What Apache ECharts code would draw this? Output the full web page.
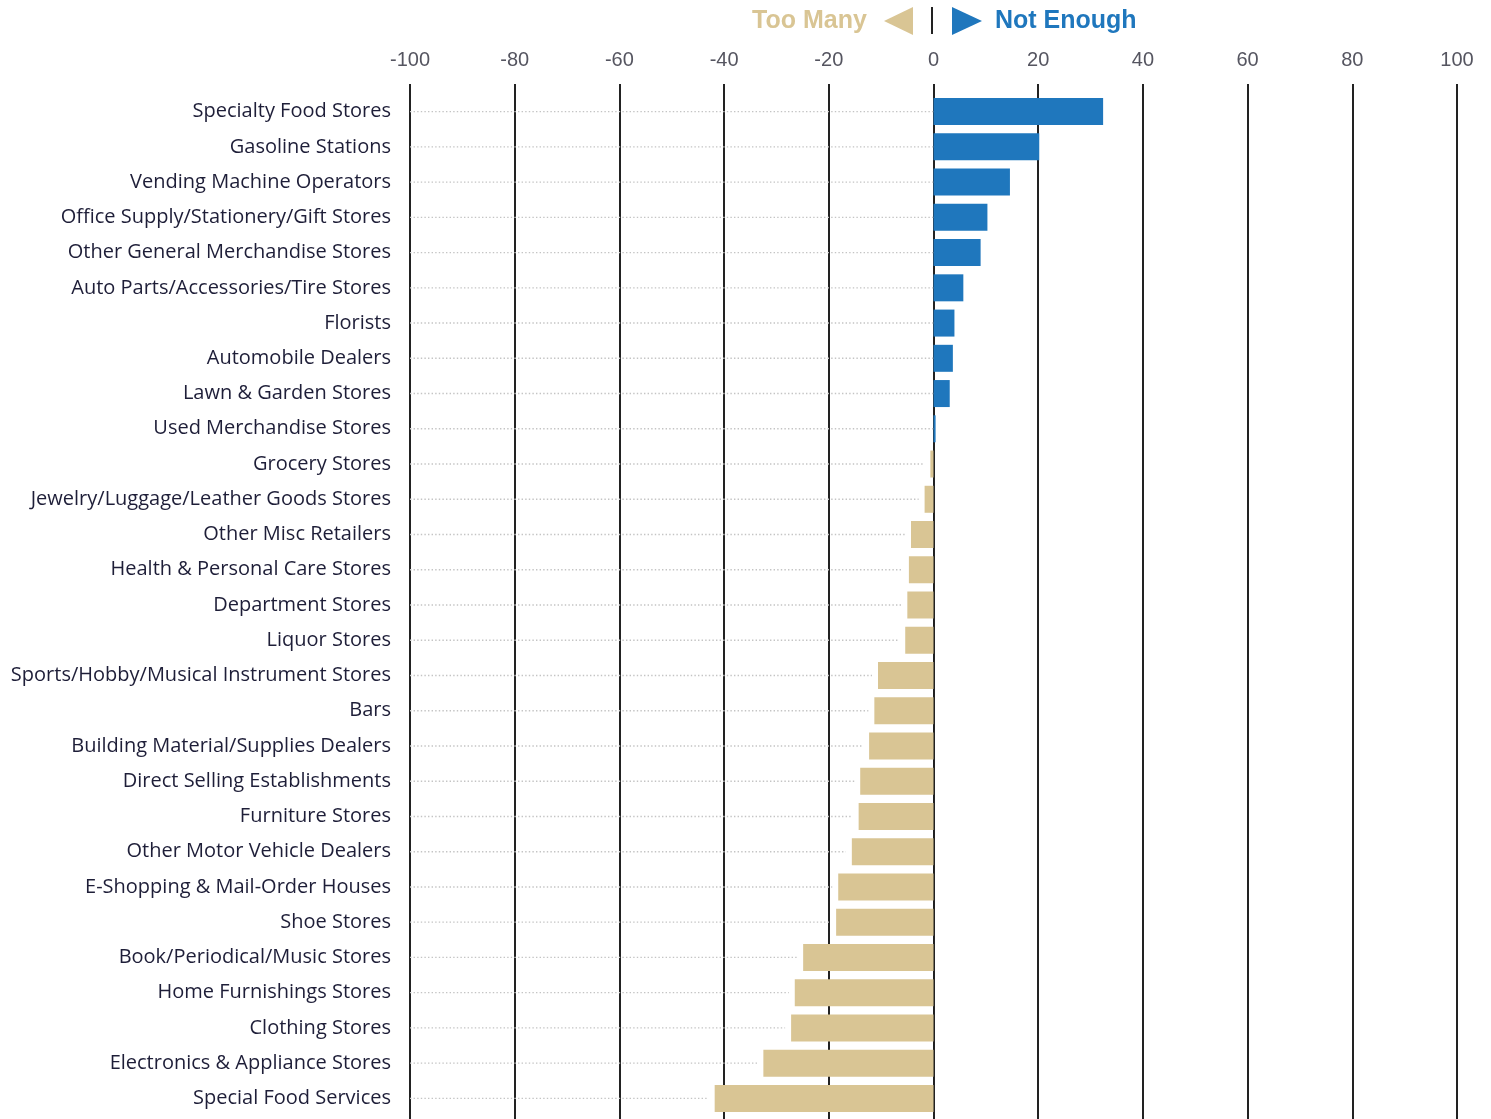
<!DOCTYPE html>
<html>
<head>
<meta charset="utf-8">
<title>Retail Categories: Too Many vs Not Enough</title>
<script src="https://cdn.jsdelivr.net/npm/echarts@6/dist/echarts.min.js"></script>
<style>
  html, body { margin: 0; padding: 0; background: #ffffff; }
  #chart { width: 1491px; height: 1119px; }
</style>
</head>
<body>
<div id="chart"></div>
<script>
// Store categories, top to bottom
const categories = [
  'Specialty Food Stores',
  'Gasoline Stations',
  'Vending Machine Operators',
  'Office Supply/Stationery/Gift Stores',
  'Other General Merchandise Stores',
  'Auto Parts/Accessories/Tire Stores',
  'Florists',
  'Automobile Dealers',
  'Lawn & Garden Stores',
  'Used Merchandise Stores',
  'Grocery Stores',
  'Jewelry/Luggage/Leather Goods Stores',
  'Other Misc Retailers',
  'Health & Personal Care Stores',
  'Department Stores',
  'Liquor Stores',
  'Sports/Hobby/Musical Instrument Stores',
  'Bars',
  'Building Material/Supplies Dealers',
  'Direct Selling Establishments',
  'Furniture Stores',
  'Other Motor Vehicle Dealers',
  'E-Shopping & Mail-Order Houses',
  'Shoe Stores',
  'Book/Periodical/Music Stores',
  'Home Furnishings Stores',
  'Clothing Stores',
  'Electronics & Appliance Stores',
  'Special Food Services'
];

// Gap between demand and supply: positive = not enough, negative = too many
const gapValues = [
  32.4, 20.2, 14.6, 10.3, 9.0, 5.7, 4.0, 3.7, 3.1, 0.4,
  -0.6, -1.7, -4.3, -4.7, -5.0, -5.4, -10.6, -11.3, -12.3, -14.0,
  -14.3, -15.6, -18.2, -18.6, -24.9, -26.5, -27.2, -32.5, -41.8
];

// Axis range and tick step
const axisMin = -100;
const axisMax = 100;
const axisStep = 20;

const notEnoughColor = '#1f77bd';
const tooManyColor = '#d9c594';

const chart = echarts.init(document.getElementById('chart'));

const gridLeft = 410;
const gridRight = 34;

const option = {
  backgroundColor: '#ffffff',
  animation: false,
  grid: [
    { left: gridLeft, right: gridRight, top: 94, bottom: 3, containLabel: false },
    { left: gridLeft, right: gridRight, top: 84, bottom: 0, containLabel: false }
  ],
  xAxis: [
    {
      gridIndex: 0,
      type: 'value',
      min: axisMin,
      max: axisMax,
      interval: axisStep,
      show: false,
      splitLine: { show: false }
    },
    {
      gridIndex: 1,
      type: 'value',
      position: 'top',
      min: axisMin,
      max: axisMax,
      interval: axisStep,
      axisLine: { show: false },
      axisTick: { show: false },
      axisLabel: {
        margin: 14,
        fontSize: 20,
        fontFamily: 'Liberation Sans, Arial, sans-serif',
        color: '#555560'
      },
      splitLine: { show: true, lineStyle: { color: '#222222', width: 2 } }
    }
  ],
  yAxis: [
    {
      gridIndex: 0,
      type: 'category',
      data: categories,
      inverse: true,
      axisLine: { show: false },
      axisTick: { show: false },
      splitLine: { show: false },
      axisLabel: {
        margin: 19,
        fontSize: 20,
        fontFamily: 'Open Sans, Noto Sans, sans-serif',
        color: '#1e1e38'
      }
    },
    {
      gridIndex: 1,
      type: 'value',
      show: false
    }
  ],
  graphic: [
    {
      type: 'text',
      left: 752, top: 9,
      style: {
        text: 'Too Many',
        fill: tooManyColor,
        font: 'bold 25px Liberation Sans, Arial, sans-serif'
      }
    },
    {
      type: 'polygon',
      shape: { points: [[884, 21], [913, 7], [913, 35]] },
      style: { fill: tooManyColor }
    },
    {
      type: 'rect',
      shape: { x: 931, y: 7, width: 2, height: 27 },
      style: { fill: '#222222' }
    },
    {
      type: 'polygon',
      shape: { points: [[952, 7], [982, 21], [952, 35]] },
      style: { fill: notEnoughColor }
    },
    {
      type: 'text',
      left: 995, top: 9,
      style: {
        text: 'Not Enough',
        fill: notEnoughColor,
        font: 'bold 25px Liberation Sans, Arial, sans-serif'
      }
    }
  ],
  series: [
    {
      // dotted leader from the label edge to the start of each bar
      type: 'custom',
      xAxisIndex: 0,
      yAxisIndex: 0,
      z: 1,
      silent: true,
      encode: { x: 0, y: 1 },
      data: gapValues.map((v, i) => [v, i]),
      renderItem: function (params, api) {
        const v = api.value(0);
        const idx = api.value(1);
        const start = api.coord([axisMin, idx]);
        const end = api.coord([Math.min(v, 0), idx]);
        const endX = v < 0 ? end[0] - 6 : end[0];
        return {
          type: 'line',
          shape: { x1: start[0], y1: start[1], x2: endX, y2: end[1] },
          style: { stroke: '#c4c4c4', lineWidth: 1.4, lineDash: [1.4, 2.2] }
        };
      }
    },
    {
      type: 'bar',
      xAxisIndex: 0,
      yAxisIndex: 0,
      z: 3,
      barWidth: 27,
      data: gapValues.map(v => ({
        value: v,
        itemStyle: { color: v >= 0 ? notEnoughColor : tooManyColor }
      }))
    }
  ]
};

chart.setOption(option);
</script>
</body>
</html>
